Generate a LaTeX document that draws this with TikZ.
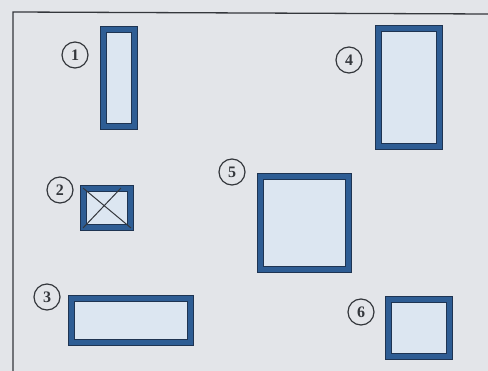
\documentclass[tikz,border=0pt]{standalone}
\usepackage{xcolor}
\usepackage{fontspec}
\setmainfont{Liberation Serif}
\definecolor{paper}{HTML}{E3E5E9}
\definecolor{boxfill}{HTML}{DCE6F1}
\definecolor{boxblue}{HTML}{2E5D94}
\definecolor{boxedge}{HTML}{1E3452}
\definecolor{pencil}{HTML}{34373C}
\begin{document}
\begin{tikzpicture}[x=1pt,y=-1pt,
    room/.style={rectangle, draw=boxedge, double=boxblue, double distance=4.6pt,
      line width=0.9pt, fill=boxfill, inner sep=0pt},
    num/.style={circle, draw=pencil, line width=1.2pt, minimum size=26pt,
      inner sep=0pt, font=\fontsize{16}{16}\selectfont\bfseries, text=pencil}]
% paper and frame
\fill[paper] (0,0) rectangle (488,371);
\useasboundingbox (0,0) rectangle (488,371);
\draw[pencil, line width=1.3pt] (13,371) -- (13,12) -- (488,14);
% the six rooms
\node[room, minimum width=31pt, minimum height=97pt] (r1) at (119,78) {};
\node[room, minimum width=47pt, minimum height=39pt] (r2) at (107,208) {};
\node[room, minimum width=119pt, minimum height=44pt] (r3) at (131,320.5) {};
\node[room, minimum width=61pt, minimum height=118pt] (r4) at (409,87.5) {};
\node[room, minimum width=88pt, minimum height=93pt] (r5) at (304.5,223) {};
\node[room, minimum width=61pt, minimum height=57pt] (r6) at (419,328) {};
% cross in room 2
\draw[pencil, line width=1pt] (r2.north west) -- (r2.south east);
\draw[pencil, line width=1pt] (r2.south west) -- ([xshift=-10pt]r2.north east);
% numbers
\node[num] (n1) at (75,55) {1};
\node[num] (n2) at (60,190) {2};
\node[num] (n3) at (47,297) {3};
\node[num] (n4) at (349,60) {4};
\node[num] (n5) at (232,172) {5};
\node[num] (n6) at (361,312) {6};
\end{tikzpicture}
\end{document}
